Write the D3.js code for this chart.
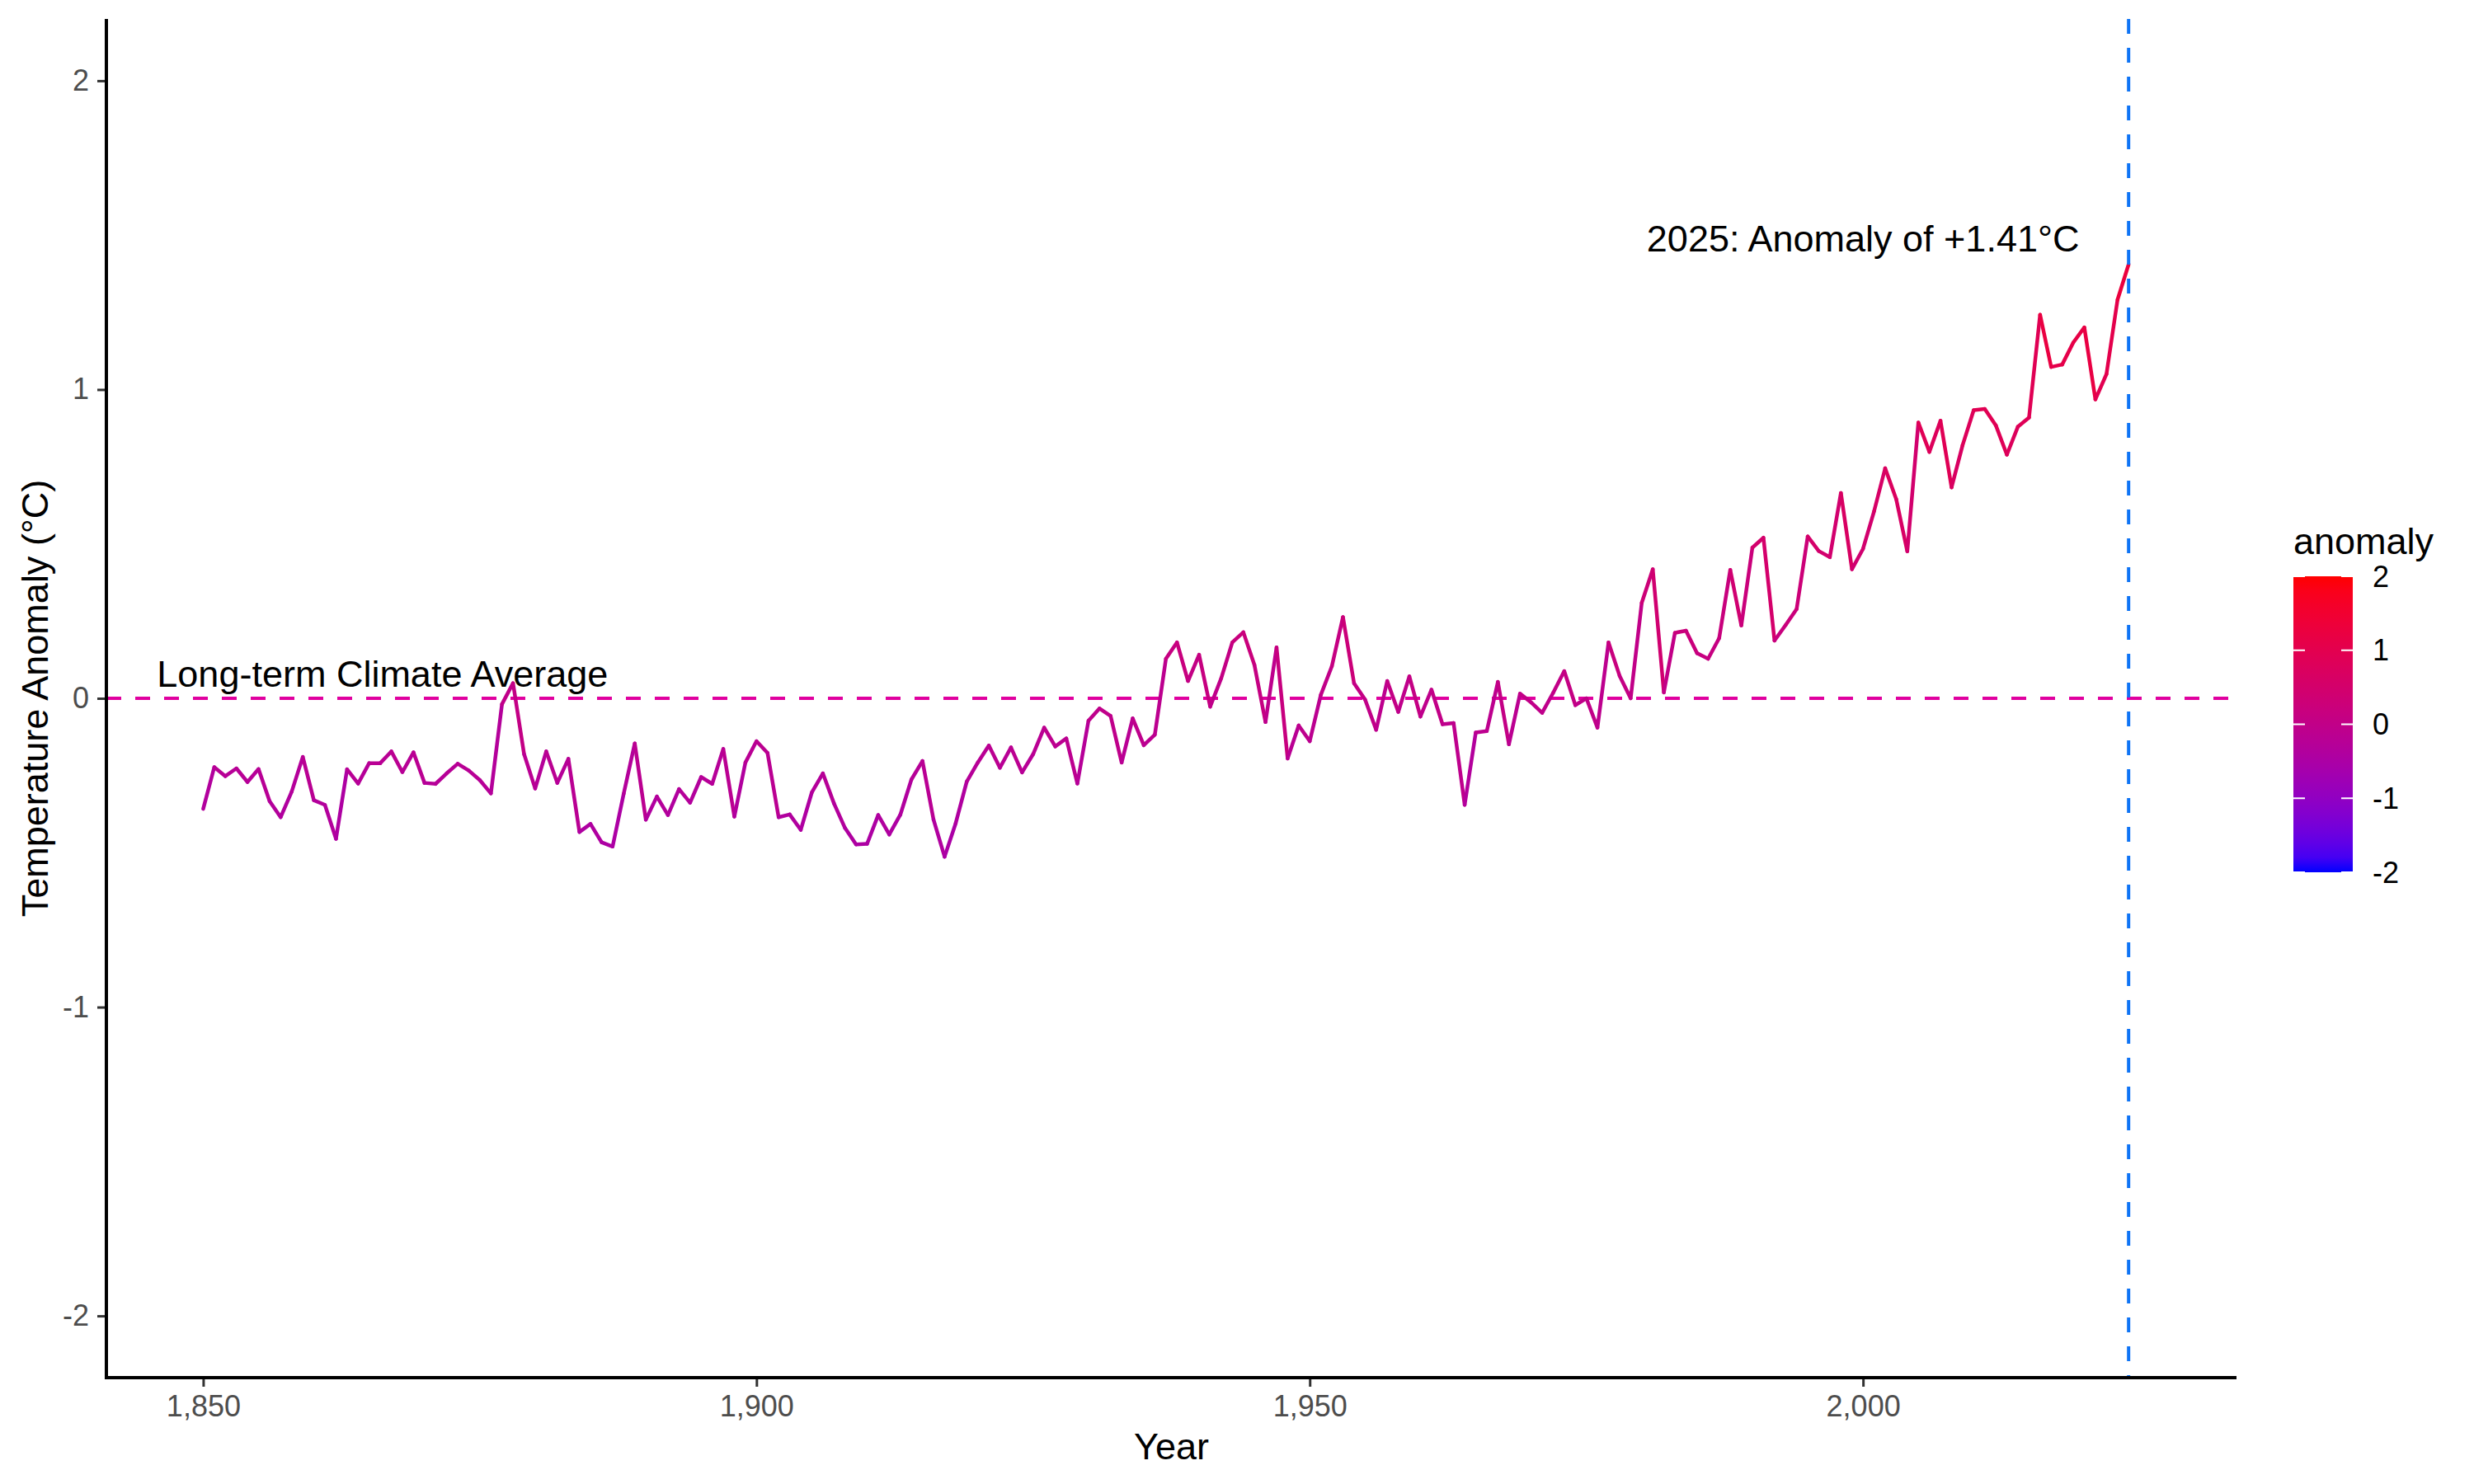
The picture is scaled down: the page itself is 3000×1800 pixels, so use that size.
<!DOCTYPE html>
<html>
<head>
<meta charset="utf-8">
<script src="https://cdn.jsdelivr.net/npm/d3@7"></script>
<style>
	body { margin: 0; background: #fff; }
	svg { font-family: "Liberation Sans", Arial, sans-serif; }
</style>
</head>
<body>
<svg width="3000" height="1800"></svg>
<script>
// yearly anomaly (°C), 1850 - 2024
const years = d3.range(1850, 2025);
const anomaly = [
	-0.358, -0.223, -0.252, -0.227, -0.271, -0.229, -0.333, -0.385, -0.302, -0.19,
	-0.33, -0.345, -0.455, -0.23, -0.276, -0.21, -0.21, -0.172, -0.239, -0.175,
	-0.274, -0.277, -0.243, -0.212, -0.234, -0.265, -0.308, -0.019, 0.049, -0.181,
	-0.292, -0.172, -0.274, -0.196, -0.433, -0.407, -0.466, -0.48, -0.309, -0.146,
	-0.393, -0.318, -0.378, -0.294, -0.338, -0.255, -0.277, -0.164, -0.383, -0.208,
	-0.139, -0.177, -0.385, -0.376, -0.426, -0.305, -0.243, -0.34, -0.42, -0.473,
	-0.471, -0.378, -0.441, -0.377, -0.263, -0.203, -0.393, -0.513, -0.405, -0.27,
	-0.208, -0.153, -0.225, -0.159, -0.24, -0.181, -0.095, -0.156, -0.13, -0.276,
	-0.073, -0.033, -0.057, -0.208, -0.065, -0.152, -0.118, 0.128, 0.181, 0.056,
	0.141, -0.027, 0.065, 0.181, 0.214, 0.108, -0.077, 0.165, -0.195, -0.088,
	-0.139, 0.011, 0.104, 0.263, 0.049, -0.004, -0.102, 0.056, -0.044, 0.071,
	-0.059, 0.028, -0.084, -0.08, -0.345, -0.111, -0.106, 0.053, -0.149, 0.015,
	-0.013, -0.047, 0.018, 0.088, -0.022, 0.0, -0.095, 0.181, 0.073, 0.0,
	0.309, 0.418, 0.019, 0.212, 0.219, 0.146, 0.128, 0.195, 0.416, 0.236,
	0.488, 0.52, 0.187, 0.237, 0.289, 0.524, 0.477, 0.457, 0.665, 0.418,
	0.484, 0.606, 0.745, 0.645, 0.476, 0.893, 0.798, 0.899, 0.683, 0.82,
	0.933, 0.937, 0.884, 0.789, 0.88, 0.909, 1.242, 1.073, 1.081, 1.152,
	1.201, 0.968, 1.05, 1.291, 1.405
];
const xTicks = [1850, 1900, 1950, 2000];
const yTicks = [-2, -1, 0, 1, 2];
const legendTicks = [-2, -1, 0, 1, 2];
const markYear = 2024;
const markLabel = "2025: Anomaly of +1.41°C";
const averageLabel = "Long-term Climate Average";

const svg = d3.select("svg");
const panel = { left: 129, right: 2712, top: 23, bottom: 1671 };

// ggplot style 5% expansion
const xPad = (2025 - 1850) * 0.05;
const x = d3.scaleLinear()
	.domain([1850 - xPad, 2025 + xPad])
	.range([panel.left, panel.right]);
const y = d3.scaleLinear()
	.domain([-2.2, 2.2])
	.range([panel.bottom, panel.top]);
const colour = d3.scaleLinear()
	.domain([-2, 2])
	.range(["blue", "red"])
	.interpolate(d3.interpolateLab);

const data = years.map((yr, i) => ({ year: yr, value: anomaly[i] }));

// zero reference line
svg.append("line")
	.attr("x1", panel.left)
	.attr("x2", panel.right)
	.attr("y1", y(0))
	.attr("y2", y(0))
	.attr("stroke", "#e0009f")
	.attr("stroke-width", 4)
	.attr("stroke-dasharray", "18 17");

// the series, each segment coloured by its start value
svg.append("g")
	.selectAll("line")
	.data(data.slice(0, -1))
	.join("line")
	.attr("x1", (d) => x(d.year))
	.attr("y1", (d) => y(d.value))
	.attr("x2", (d, i) => x(data[i + 1].year))
	.attr("y2", (d, i) => y(data[i + 1].value))
	.attr("stroke", (d) => colour(d.value))
	.attr("stroke-width", 4.5)
	.attr("stroke-linecap", "round");

// marker for latest year
svg.append("line")
	.attr("x1", x(markYear))
	.attr("x2", x(markYear))
	.attr("y1", panel.top)
	.attr("y2", panel.bottom)
	.attr("stroke", "#0f74f5")
	.attr("stroke-width", 4)
	.attr("stroke-dasharray", "18 17");

svg.append("text")
	.attr("x", x(2000))
	.attr("y", y(1.49))
	.attr("dy", "0.35em")
	.attr("text-anchor", "middle")
	.attr("font-size", "45px")
	.text(markLabel);

svg.append("text")
	.attr("x", x(1866.2))
	.attr("y", y(0.08))
	.attr("dy", "0.35em")
	.attr("text-anchor", "middle")
	.attr("font-size", "45px")
	.text(averageLabel);

// axes
const xAxis = svg.append("g")
	.attr("transform", "translate(0," + panel.bottom + ")")
	.call(d3.axisBottom(x).tickValues(xTicks).tickFormat(d3.format(",")).tickSize(11).tickPadding(10));
const yAxis = svg.append("g")
	.attr("transform", "translate(" + panel.left + ",0)")
	.call(d3.axisLeft(y).tickValues(yTicks).tickFormat((d) => d).tickSize(11).tickPadding(10));

[xAxis, yAxis].forEach((g) => {
	g.select(".domain").remove();
	g.selectAll(".tick line").attr("stroke", "#333").attr("stroke-width", 3);
	g.selectAll(".tick text")
		.attr("fill", "#4d4d4d")
		.attr("font-size", "36px")
		.attr("font-family", "Liberation Sans, Arial, sans-serif");
});

svg.append("line")
	.attr("x1", panel.left - 2)
	.attr("x2", panel.right)
	.attr("y1", panel.bottom)
	.attr("y2", panel.bottom)
	.attr("stroke", "#000")
	.attr("stroke-width", 4);
svg.append("line")
	.attr("x1", panel.left)
	.attr("x2", panel.left)
	.attr("y1", panel.top)
	.attr("y2", panel.bottom + 2)
	.attr("stroke", "#000")
	.attr("stroke-width", 4);

svg.append("text")
	.attr("x", (panel.left + panel.right) / 2)
	.attr("y", 1770)
	.attr("text-anchor", "middle")
	.attr("font-size", "45px")
	.text("Year");

svg.append("text")
	.attr("transform", "translate(58," + (panel.top + panel.bottom) / 2 + ") rotate(-90)")
	.attr("text-anchor", "middle")
	.attr("font-size", "45px")
	.text("Temperature Anomaly (°C)");

// colour bar legend
const legend = { x: 2781, top: 699, width: 72, height: 359 };
const ly = d3.scaleLinear()
	.domain([-2, 2])
	.range([legend.top + legend.height, legend.top]);

const grad = svg.append("defs")
	.append("linearGradient")
	.attr("id", "anomalyGrad")
	.attr("x1", 0).attr("x2", 0)
	.attr("y1", 1).attr("y2", 0);
grad.selectAll("stop")
	.data(d3.range(0, 21))
	.join("stop")
	.attr("offset", (d) => d / 20)
	.attr("stop-color", (d) => colour(-2 + (d / 20) * 4));

svg.append("text")
	.attr("x", legend.x)
	.attr("y", 672)
	.attr("font-size", "45px")
	.text("anomaly");

svg.append("rect")
	.attr("x", legend.x)
	.attr("y", legend.top)
	.attr("width", legend.width)
	.attr("height", legend.height)
	.attr("fill", "url(#anomalyGrad)");

const lt = svg.append("g");
legendTicks.forEach((t) => {
	lt.append("line")
		.attr("x1", legend.x).attr("x2", legend.x + 14)
		.attr("y1", ly(t)).attr("y2", ly(t))
		.attr("stroke", "#fff").attr("stroke-width", 2);
	lt.append("line")
		.attr("x1", legend.x + legend.width - 14).attr("x2", legend.x + legend.width)
		.attr("y1", ly(t)).attr("y2", ly(t))
		.attr("stroke", "#fff").attr("stroke-width", 2);
	lt.append("text")
		.attr("x", 2877)
		.attr("y", ly(t))
		.attr("dy", "0.35em")
		.attr("font-size", "36px")
		.text(t);
});
</script>
</body>
</html>
